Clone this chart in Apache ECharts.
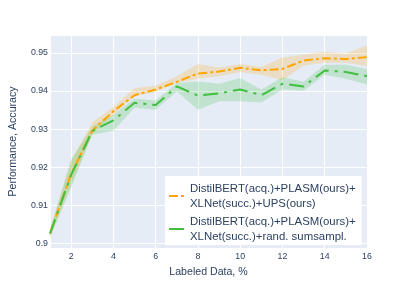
<!DOCTYPE html>
<html>
<head>
<meta charset="utf-8">
<script src="https://cdn.jsdelivr.net/npm/echarts@6/dist/echarts.min.js"></script>
<style>html,body{margin:0;padding:0;background:#fff}#c{width:415px;height:297px}</style>
</head>
<body>
<div id="c"></div>
<script>
var labeled = [1, 2, 3, 4, 5, 6, 7, 8, 9, 10, 11, 12, 13, 14, 15, 16];
var upsMean  = [0.9026, 0.9182, 0.9296, 0.9347, 0.9389, 0.9404, 0.9424, 0.9446, 0.9451, 0.9461, 0.9454, 0.9458, 0.9480, 0.9486, 0.9484, 0.9489];
var upsUpper = [0.9038, 0.9215, 0.9318, 0.9358, 0.9408, 0.9414, 0.9439, 0.9471, 0.9462, 0.9471, 0.9463, 0.9488, 0.9496, 0.9503, 0.9498, 0.9520];
var upsLower = [0.9016, 0.9155, 0.9286, 0.9338, 0.9386, 0.9398, 0.9421, 0.9432, 0.9439, 0.9449, 0.9443, 0.9428, 0.9467, 0.9474, 0.9474, 0.9465];
var randMean  = [0.9026, 0.9180, 0.9295, 0.9323, 0.9369, 0.9363, 0.9412, 0.9388, 0.9394, 0.9404, 0.9389, 0.9419, 0.9412, 0.9454, 0.9450, 0.9439];
var randUpper = [0.9036, 0.9220, 0.9307, 0.9338, 0.9380, 0.9375, 0.9421, 0.9425, 0.9419, 0.9434, 0.9404, 0.9436, 0.9424, 0.9469, 0.9469, 0.9458];
var randLower = [0.9014, 0.9146, 0.9285, 0.9296, 0.9356, 0.9351, 0.9399, 0.9351, 0.9373, 0.9373, 0.9370, 0.9404, 0.9401, 0.9443, 0.9432, 0.9417];
var seriesNames = [
  'DistilBERT(acq.)+PLASM(ours)+\nXLNet(succ.)+UPS(ours)',
  'DistilBERT(acq.)+PLASM(ours)+\nXLNet(succ.)+rand. sumsampl.'
];

var FONT = '"Liberation Sans", Arial, sans-serif';
var TXT = '#2a3f5f';

function pairs(ys) { return labeled.map(function (x, i) { return [x, ys[i]]; }); }
function band(name, up, lo, fill) {
  return {
    type: 'custom', name: name, silent: true, clip: true, z: 1,
    data: labeled.map(function (x, i) { return [x, up[i], lo[i]]; }),
    encode: { x: 0, y: [1, 2] },
    renderItem: function (params, api) {
      if (params.dataIndex !== 0) return null;
      var pts = [];
      for (var i = 0; i < labeled.length; i++) pts.push(api.coord([labeled[i], up[i]]));
      for (var j = labeled.length - 1; j >= 0; j--) pts.push(api.coord([labeled[j], lo[j]]));
      return { type: 'polygon', shape: { points: pts }, style: { fill: fill, stroke: null } };
    }
  };
}

var chart = echarts.init(document.getElementById('c'), null, { renderer: 'canvas' });
chart.setOption({
  backgroundColor: '#ffffff',
  animation: false,
  grid: { left: 47, right: 48, top: 35, bottom: 49, show: true, backgroundColor: '#E5ECF6', borderWidth: 0 },
  xAxis: {
    type: 'value', min: 1, max: 16, splitNumber: 7,
    name: 'Labeled Data, %', nameLocation: 'middle', nameGap: 19,
    nameTextStyle: { color: TXT, fontSize: 10.6, fontFamily: FONT },
    axisLine: { show: false }, axisTick: { show: false },
    axisLabel: { color: TXT, fontSize: 8.8, fontFamily: FONT, margin: 4, showMinLabel: false },
    splitLine: { show: true, lineStyle: { color: '#ffffff', width: 1 } }
  },
  yAxis: {
    type: 'value', min: 0.8988, max: 0.9547, splitNumber: 5,
    name: 'Performance, Accuracy', nameLocation: 'middle', nameGap: 31,
    nameTextStyle: { color: TXT, fontSize: 10.6, fontFamily: FONT },
    axisLine: { show: false }, axisTick: { show: false },
    axisLabel: { color: TXT, fontSize: 8.8, fontFamily: FONT, margin: 2, showMinLabel: false, showMaxLabel: false },
    splitLine: { show: true, lineStyle: { color: '#ffffff', width: 1 } }
  },
  legend: {
    data: seriesNames, orient: 'vertical', left: 165, top: 176,
    backgroundColor: '#ffffff', padding: [5, 6, 1, 3], itemGap: 3,
    itemWidth: 16, itemHeight: 10,
    itemStyle: { opacity: 0 },
    textStyle: { color: TXT, fontSize: 11.4, lineHeight: 15, fontFamily: FONT }
  },
  series: [
    band('upsBand', upsUpper, upsLower, 'rgba(255,165,0,0.2)'),
    band('randBand', randUpper, randLower, 'rgba(50,190,50,0.2)'),
    {
      type: 'line', name: seriesNames[0], data: pairs(upsMean), symbol: 'none', z: 3,
      itemStyle: { color: '#FFA500' },
      lineStyle: { color: '#FFA500', width: 2, type: [9, 3, 3, 3] }
    },
    {
      type: 'line', name: seriesNames[1], data: pairs(randMean), symbol: 'none', z: 3,
      itemStyle: { color: '#40bf40' },
      lineStyle: { color: '#40bf40', width: 2, type: [15, 6, 3, 6] }
    }
  ]
});
</script>
</body>
</html>
